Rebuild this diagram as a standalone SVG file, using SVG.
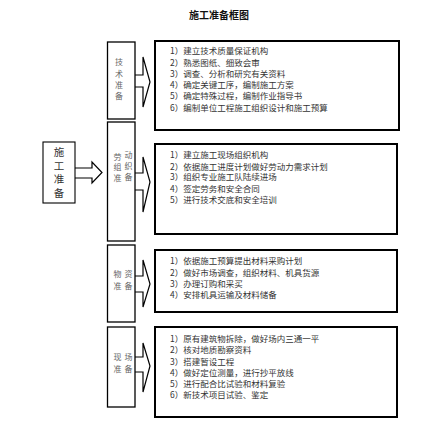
<svg xmlns="http://www.w3.org/2000/svg" width="427" height="438" viewBox="0 0 427 438">
<style>
.t{font-family:"Noto Sans CJK SC","Noto Sans",sans-serif;}
.title{font-size:10px;font-weight:bold;fill:#111;}
.item{font-size:8.5px;fill:#333;}
.mid{font-size:8px;fill:#666;text-anchor:middle;}
.lft{font-size:10.5px;fill:#333;text-anchor:middle;}
.rbox{fill:#fff;stroke:#000;stroke-width:2;}
.mbox{fill:#fff;stroke:#000;stroke-width:1.3;}
.lbox{fill:#fff;stroke:#000;stroke-width:1.1;}
.arr{fill:#fff;stroke:#000;stroke-width:1.2;stroke-linejoin:miter;}
</style>
<rect width="427" height="438" fill="#fff"/>
<text class="t title" x="219" y="19" text-anchor="middle">施工准备框图</text>

<g id="connectors">
<polyline class="arr" points="75,168 92,168 92,162 102,172.5 92,183 92,178 75,178"/>
<polyline class="arr" points="135,75 143,75 143,57 150,82 143,107 143,87 135,87"/>
<polyline class="arr" points="135,173 143,173 143,157 150,182 143,212 143,190 135,190"/>
<polyline class="arr" points="135,276 143,276 143,260 150,284 143,307 143,292 135,292"/>
<polyline class="arr" points="135,357 143,357 143,343 150,366 143,392 143,372 135,372"/>
</g>

<g id="node-root">
<rect class="lbox" x="43" y="142" width="32" height="61"/>
<text class="t lft" x="59" y="156">施</text>
<text class="t lft" x="59" y="169.5">工</text>
<text class="t lft" x="59" y="183">准</text>
<text class="t lft" x="59" y="196.5">备</text>
</g>

<g id="node-tech">
<rect class="mbox" x="107.5" y="42" width="27.5" height="77"/>
<text class="t mid" x="119" y="65">技</text>
<text class="t mid" x="119" y="76.5">术</text>
<text class="t mid" x="119" y="87.5">准</text>
<text class="t mid" x="119" y="99">备</text>
</g>

<g id="node-labor">
<rect class="mbox" x="107.5" y="122" width="27.5" height="119"/>
<text class="t mid" x="117.5" y="159.5">劳</text>
<text class="t mid" x="128.5" y="158">动</text>
<text class="t mid" x="117.5" y="170">组</text>
<text class="t mid" x="128.5" y="169">织</text>
<text class="t mid" x="117.5" y="181">准</text>
<text class="t mid" x="128.5" y="180">备</text>
</g>

<g id="node-material">
<rect class="mbox" x="107.5" y="245" width="27.5" height="77"/>
<text class="t mid" x="117.5" y="277">物</text>
<text class="t mid" x="128.5" y="277">资</text>
<text class="t mid" x="117.5" y="288.5">准</text>
<text class="t mid" x="128.5" y="288.5">备</text>
</g>

<g id="node-site">
<rect class="mbox" x="107.5" y="327" width="27.5" height="80"/>
<text class="t mid" x="117.5" y="359.5">现</text>
<text class="t mid" x="128.5" y="359.5">场</text>
<text class="t mid" x="117.5" y="371.5">准</text>
<text class="t mid" x="128.5" y="371.5">备</text>
</g>

<g id="node-tech-items">
<rect class="rbox" x="155" y="41" width="244" height="89"/>
<text class="t item" x="170" y="54">1）建立技术质量保证机构</text>
<text class="t item" x="170" y="65.5">2）熟悉图纸、细致会审</text>
<text class="t item" x="170" y="76.5">3）调查、分析和研究有关资料</text>
<text class="t item" x="170" y="87.5">4）确定关键工序，编制施工方案</text>
<text class="t item" x="170" y="99">5）确定特殊过程，编制作业指导书</text>
<text class="t item" x="170" y="111">6）编制单位工程施工组织设计和施工预算</text>
</g>

<g id="node-labor-items">
<rect class="rbox" x="155" y="144" width="242" height="90"/>
<text class="t item" x="170" y="158">1）建立施工现场组织机构</text>
<text class="t item" x="170" y="169.5">2）依据施工进度计划做好劳动力需求计划</text>
<text class="t item" x="170" y="180">3）组织专业施工队陆续进场</text>
<text class="t item" x="170" y="191.5">4）签定劳务和安全合同</text>
<text class="t item" x="170" y="203">5）进行技术交底和安全培训</text>
</g>

<g id="node-material-items">
<rect class="rbox" x="155" y="250" width="242" height="62"/>
<text class="t item" x="170" y="264">1）依据施工预算提出材料采购计划</text>
<text class="t item" x="170" y="275.5">2）做好市场调查，组织材料、机具货源</text>
<text class="t item" x="170" y="286.5">3）办理订购和采买</text>
<text class="t item" x="170" y="297.5">4）安排机具运输及材料储备</text>
</g>

<g id="node-site-items">
<rect class="rbox" x="155" y="327" width="242" height="90"/>
<text class="t item" x="170" y="341.5">1）原有建筑物拆除，做好场内三通一平</text>
<text class="t item" x="170" y="353">2）核对地质勘察资料</text>
<text class="t item" x="170" y="364.5">3）搭建暂设工程</text>
<text class="t item" x="170" y="376">4）做好定位测量，进行抄平放线</text>
<text class="t item" x="170" y="387">5）进行配合比试验和材料复验</text>
<text class="t item" x="170" y="398">6）新技术项目试验、鉴定</text>
</g>
</svg>
